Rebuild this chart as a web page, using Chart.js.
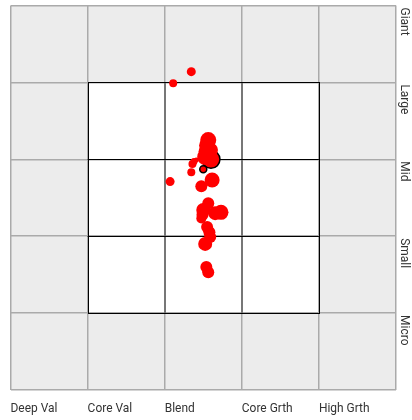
<!DOCTYPE html>
<html>
<head>
<meta charset="utf-8">
<script src="https://cdn.jsdelivr.net/npm/chart.js@4.4.0/dist/chart.umd.min.js"></script>
<style>
  html, body { margin: 0; padding: 0; background: #fff; overflow: hidden; }
  #wrap { width: 412px; height: 420px; position: relative; overflow: hidden; }
  /* bubble overflow padding pushes the plot down ~10px, shift canvas up */
  #inner { position: absolute; left: 0; top: -5px; width: 412px; height: 425px; }
</style>
</head>
<body>
<div id="wrap"><div id="inner"><canvas id="styleBox"></canvas></div></div>
<script>
// style axes
const styleLabels = ['Deep Val', 'Core Val', 'Blend', 'Core Grth', 'High Grth'];
const sizeLabels = ['Micro', 'Small', 'Mid', 'Large', 'Giant'];

// holdings: style score, size score, weight
const holdX = [2.345, 2.11, 2.565, 2.55, 2.60, 2.53, 2.525, 2.38, 2.36, 2.345, 2.41, 2.615, 2.475, 2.07,
               2.565, 2.50, 2.73, 2.655, 2.475, 2.55, 2.59, 2.525, 2.54, 2.565, 2.58, 2.49];
const holdY = [4.14, 3.99, 3.25, 3.18, 3.12, 3.10, 3.03, 2.97, 2.94, 2.83, 2.99, 2.73, 2.65, 2.71,
               2.43, 2.34, 2.31, 2.30, 2.23, 2.12, 1.99, 1.90, 1.60, 1.53, 2.05, 2.28];
const holdW = [4.5, 4, 8, 8, 7, 7, 8, 3.5, 4, 4, 2.5, 7.5, 6, 4.5,
               6, 7, 7.5, 7, 5, 6, 6, 7, 6, 6, 6, 6];

// portfolio centroid and the small outlined one
const centroidX = [2.60, 2.50];
const centroidY = [3.00, 2.87];
const centroidW = [9, 3.5];

const FONT = '"Roboto", sans-serif';

const toPoints = (xs, ys, ws) => xs.map((x, i) => ({ x, y: ys[i], r: ws[i] }));

// grey outer cells + white 3x3 inner box
const boxPlugin = {
  id: 'boxPlugin',
  beforeDraw(chart) {
    const { ctx, chartArea: a, scales: { x, y } } = chart;
    ctx.save();
    ctx.fillStyle = '#ececec';
    ctx.fillRect(a.left, a.top, a.right - a.left, a.bottom - a.top);
    const l = x.getPixelForValue(1), r = x.getPixelForValue(4);
    const t = y.getPixelForValue(4), b = y.getPixelForValue(1);
    ctx.fillStyle = '#fff';
    ctx.fillRect(l, t, r - l, b - t);
    ctx.restore();
  },
  beforeDatasetsDraw(chart) {
    const { ctx, scales: { x, y } } = chart;
    const l = x.getPixelForValue(1), r = x.getPixelForValue(4);
    const t = y.getPixelForValue(4), b = y.getPixelForValue(1);
    ctx.save();
    // inner verticals
    ctx.strokeStyle = '#777';
    ctx.lineWidth = 2;
    [2, 3].forEach(v => {
      const px = Math.round(x.getPixelForValue(v));
      ctx.beginPath(); ctx.moveTo(px, t); ctx.lineTo(px, b); ctx.stroke();
    });
    // inner horizontals and box edge
    ctx.strokeStyle = '#000';
    ctx.lineWidth = 1;
    [2, 3].forEach(v => {
      const py = Math.round(y.getPixelForValue(v)) + 0.5;
      ctx.beginPath(); ctx.moveTo(l, py); ctx.lineTo(r, py); ctx.stroke();
    });
    ctx.strokeRect(Math.round(l) + 0.5, Math.round(t) + 0.5, Math.round(r - l), Math.round(b - t));
    ctx.restore();
  },
  afterDraw(chart) {
    const { ctx, chartArea: a, scales: { x, y } } = chart;
    ctx.save();
    ctx.fillStyle = '#333';
    ctx.font = '13px ' + FONT;
    ctx.textAlign = 'left';
    ctx.textBaseline = 'alphabetic';
    // bottom style labels, starting at each column line
    styleLabels.forEach((s, i) => {
      ctx.save();
      ctx.translate(x.getPixelForValue(i), a.bottom + 22);
      ctx.scale(0.92, 1);
      ctx.fillText(s, 0, 0);
      ctx.restore();
    });
    // right size labels, rotated, starting at top of each row
    sizeLabels.forEach((s, i) => {
      ctx.save();
      ctx.translate(a.right + 5, y.getPixelForValue(i + 1) + 2);
      ctx.rotate(Math.PI / 2);
      ctx.scale(0.92, 1);
      ctx.fillText(s, 0, 0);
      ctx.restore();
    });
    ctx.restore();
  }
};

new Chart(document.getElementById('styleBox'), {
  type: 'bubble',
  data: {
    datasets: [
      {
        data: toPoints(holdX, holdY, holdW),
        backgroundColor: '#ff0000',
        borderWidth: 0,
        hoverBorderWidth: 0
      },
      {
        data: toPoints(centroidX, centroidY, centroidW),
        backgroundColor: '#ff0000',
        borderColor: '#000',
        borderWidth: 1.5
      }
    ]
  },
  options: {
    responsive: true,
    maintainAspectRatio: false,
    animation: false,
    layout: { padding: { left: 10, top: 10, right: 16, bottom: 30 } },
    plugins: { legend: { display: false }, tooltip: { enabled: false } },
    scales: {
      x: {
        type: 'linear', min: 0, max: 5,
        ticks: { display: false, stepSize: 1 },
        grid: { color: '#aaa', lineWidth: 1.5, drawTicks: false },
        border: { display: false }
      },
      y: {
        type: 'linear', min: 0, max: 5,
        ticks: { display: false, stepSize: 1 },
        grid: { color: '#aaa', lineWidth: 1.5, drawTicks: false },
        border: { display: false }
      }
    }
  },
  plugins: [boxPlugin]
});
</script>
</body>
</html>
